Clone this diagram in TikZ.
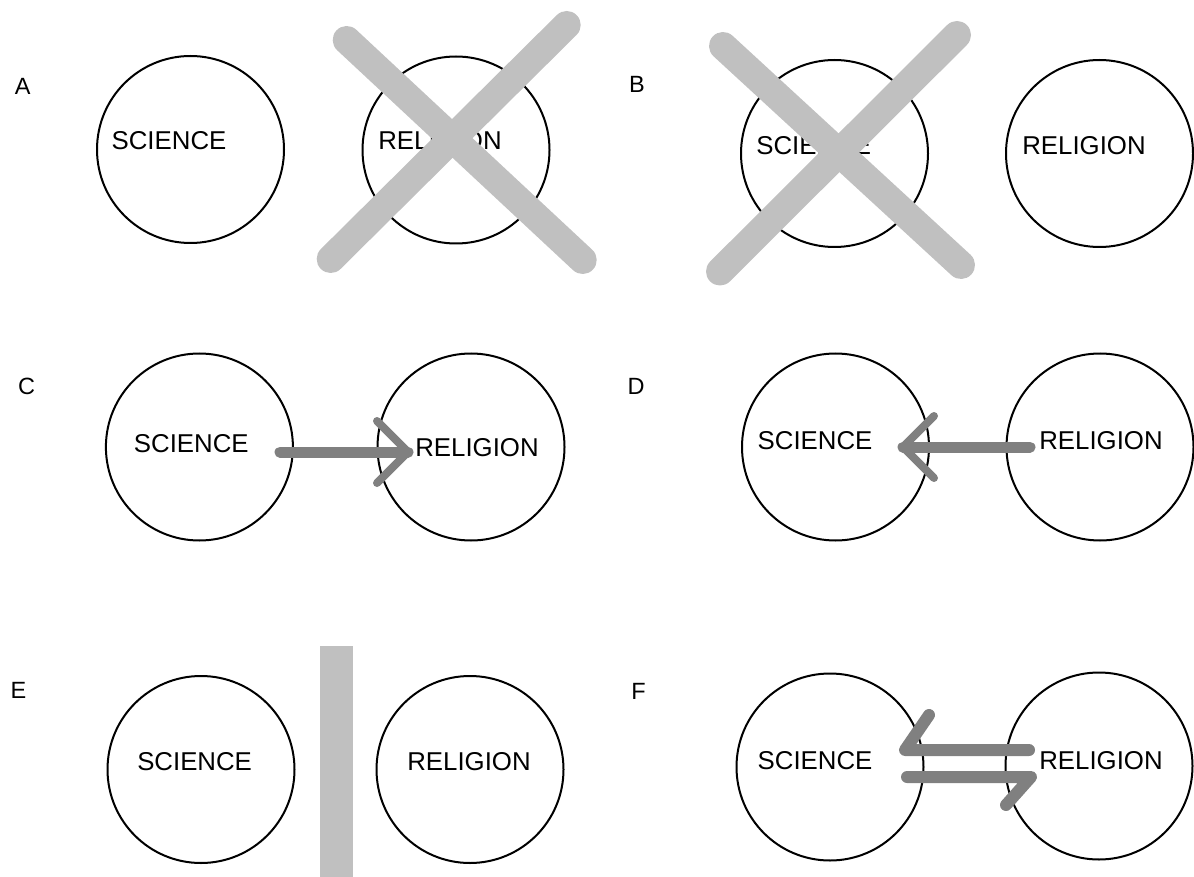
\documentclass[tikz,border=0pt]{standalone}
\usepackage{fontspec}
\setmainfont{Liberation Sans}
\definecolor{xgray}{HTML}{C0C0C0}
\definecolor{agray}{HTML}{808080}
\begin{document}
\begin{tikzpicture}[x=1pt,y=-1pt,
  ring/.style={circle,draw=black,line width=2pt,minimum size=187pt,inner sep=0pt},
  word/.style={font=\fontsize{25.8}{30}\selectfont,inner sep=0pt},
  tag/.style={font=\fontsize{23.5}{27}\selectfont,inner sep=0pt},
  cross/.style={draw=xgray,line width=28pt,line cap=round},
  flow/.style={draw=agray,line width=11pt,line cap=round,line join=round},
  barb/.style={draw=agray,line width=8pt,line cap=round,line join=round},
  harp/.style={draw=agray,line width=12pt,line cap=round,line join=round}]
\useasboundingbox (0,0) rectangle (1194,877);
% labels
\node[tag] (lA) at (22.7,86.5) {A};
\node[tag] (lB) at (637,84) {B};
\node[tag] (lC) at (26.5,386) {C};
\node[tag] (lD) at (636,386) {D};
\node[tag] (lE) at (18.5,690) {E};
\node[tag] (lF) at (638.5,691) {F};
% circles
\node[ring] (sA) at (190.5,149.5) {};
\node[ring] (rA) at (456,150) {};
\node[ring] (sB) at (834.5,153.5) {};
\node[ring] (rB) at (1099.5,153.5) {};
\node[ring] (sC) at (199.4,447) {};
\node[ring] (rC) at (471,447) {};
\node[ring] (sD) at (835.5,447) {};
\node[ring] (rD) at (1100,447) {};
\node[ring] (sE) at (201,769.5) {};
\node[ring] (rE) at (470,769.5) {};
\node[ring] (sF) at (830,767) {};
\node[ring] (rF) at (1099,766) {};
% words
\node[word] (tsA) at (169,140.3) {SCIENCE};
\node[word] (trA) at (440,140.3) {RELIGION};
\node[word] (tsB) at (813.7,145.3) {SCIENCE};
\node[word] (trB) at (1084,145.3) {RELIGION};
\node[word] (tsC) at (191.3,443.3) {SCIENCE};
\node[word] (trC) at (477,448) {RELIGION};
\node[word] (tsD) at (815,441) {SCIENCE};
\node[word] (trD) at (1101,441) {RELIGION};
\node[word] (tsE) at (194.6,761.7) {SCIENCE};
\node[word] (trE) at (469,761.7) {RELIGION};
\node[word] (tsF) at (815,760.7) {SCIENCE};
\node[word] (trF) at (1101,760.7) {RELIGION};
% crosses
\coordinate (xa1) at (346.7,40);
\coordinate (xa2) at (582.7,260);
\coordinate (xa3) at (566.7,25);
\coordinate (xa4) at (330.7,259);
\draw[cross] (xa1) -- (xa2);
\draw[cross] (xa3) -- (xa4);
\coordinate (xb1) at (723,46);
\coordinate (xb2) at (961,265);
\coordinate (xb3) at (957,35);
\coordinate (xb4) at (720,271.5);
\draw[cross] (xb1) -- (xb2);
\draw[cross] (xb3) -- (xb4);
% wall
\fill[xgray] (320,646) rectangle (353,877);
% arrow C
\coordinate (c0) at (280,452);
\coordinate (c1) at (408,452);
\coordinate (c2) at (377,421);
\coordinate (c3) at (377,483);
\draw[flow] (c0) -- (c1);
\draw[barb] (c2) -- (c1) -- (c3);
% arrow D
\coordinate (d0) at (1030,447);
\coordinate (d1) at (903,447);
\coordinate (d2) at (934,416);
\coordinate (d3) at (934,478);
\draw[flow] (d0) -- (d1);
\draw[barb] (d2) -- (d1) -- (d3);
% harpoons F
\coordinate (f0) at (1029,750);
\coordinate (f1) at (905,750);
\coordinate (f2) at (929,715);
\draw[harp] (f0) -- (f1) -- (f2);
\coordinate (g0) at (907,777);
\coordinate (g1) at (1031,777);
\coordinate (g2) at (1006,805);
\draw[harp] (g0) -- (g1) -- (g2);
\end{tikzpicture}
\end{document}
